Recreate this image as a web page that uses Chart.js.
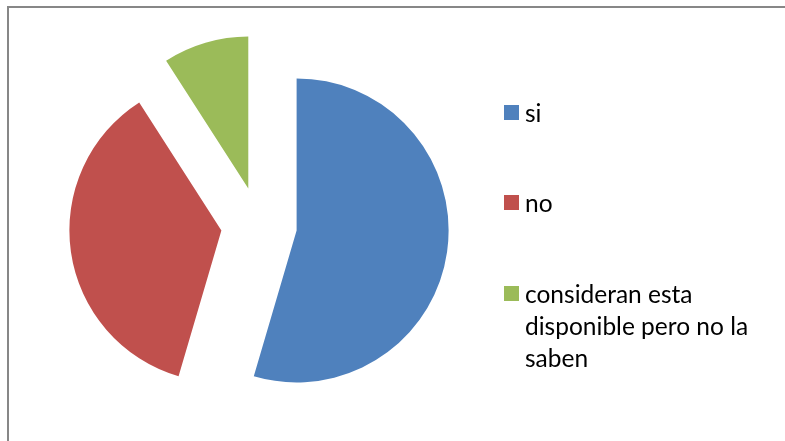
<!DOCTYPE html>
<html>
<head>
<meta charset="utf-8">
<script src="https://cdn.jsdelivr.net/npm/chart.js@4/dist/chart.umd.min.js"></script>
<style>
  html, body { margin: 0; padding: 0; background: #fff; }
  #wrap { position: relative; width: 785px; height: 441px; overflow: hidden; }
  #frame { position: absolute; left: 7px; top: 6px; width: 800px; height: 460px;
           border-left: 2px solid #878787; border-top: 2px solid #878787; box-sizing: border-box; }
  #c { position: absolute; left: 0; top: 0; }
  .item { position: absolute; left: 504px; font-family: Lato, "Liberation Sans", sans-serif;
          font-size: 24.5px; line-height: 32px; color: #000; }
  .sw { position: absolute; left: 0; width: 15px; height: 15px; }
  .tx { position: absolute; left: 21px; top: 2px; width: 250px; }
</style>
</head>
<body>
<div id="wrap">
  <div id="frame"></div>
  <canvas id="c" width="785" height="441"></canvas>
  <div id="legend"></div>
</div>
<script>
const categories = ["si", "no", "consideran esta disponible pero no la saben"];
const values = [6, 4, 1];
const colors = ["#4F81BD", "#C0504D", "#9BBB59"];
const legendBaselines = [120, 210, 301];

const explode = {
  id: 'explode',
  afterDatasetsUpdate(chart) {
    const dist = 38;
    chart.getDatasetMeta(0).data.forEach(arc => {
      const mid = (arc.startAngle + arc.endAngle) / 2;
      arc.x += Math.cos(mid) * dist;
      arc.y += Math.sin(mid) * dist;
    });
  }
};

new Chart(document.getElementById('c'), {
  type: 'pie',
  data: {
    labels: categories,
    datasets: [{
      data: values,
      backgroundColor: colors,
      borderWidth: 0,
      radius: 152
    }]
  },
  options: {
    responsive: false,
    animation: false,
    events: [],
    layout: { padding: { left: 1, right: 268, top: 9, bottom: 0 } },
    plugins: { legend: { display: false }, tooltip: { enabled: false } }
  },
  plugins: [explode]
});

const leg = document.getElementById('legend');
categories.forEach((c, i) => {
  const d = document.createElement('div');
  d.className = 'item';
  d.style.top = (legendBaselines[i] - 25.5) + 'px';
  const s = document.createElement('div');
  s.className = 'sw';
  s.style.background = colors[i];
  s.style.top = (25.5 - 15) + 'px';
  const t = document.createElement('div');
  t.className = 'tx';
  t.textContent = c;
  d.appendChild(s); d.appendChild(t);
  leg.appendChild(d);
});
</script>
</body>
</html>
